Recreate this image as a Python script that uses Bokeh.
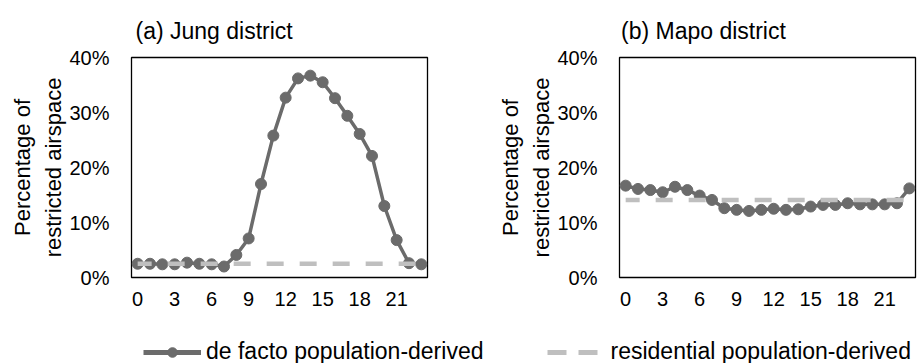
from bokeh.plotting import figure
from bokeh.layouts import column, row
from bokeh.models import Range1d, FixedTicker, Legend, LegendItem
from bokeh.embed import file_html
from bokeh.resources import INLINE

# ---------------- data ----------------
hours = list(range(24))
x_ticks = [0, 3, 6, 9, 12, 15, 18, 21]
y_ticks = [0, 10, 20, 30, 40]
y_tick_labels = ["0%", "10%", "20%", "30%", "40%"]

jung_defacto = [2.5, 2.5, 2.4, 2.4, 2.7, 2.5, 2.4, 2.0, 4.1, 7.1, 17.0, 25.8,
                32.7, 36.2, 36.7, 35.5, 32.6, 29.4, 26.1, 22.1, 13.0, 6.8, 2.6, 2.4]
jung_resid = [2.5, 2.5, 2.5, 2.5, 2.5, 2.5, 2.5, 2.5, 2.5, 2.5, 2.5, 2.5,
              2.5, 2.5, 2.5, 2.5, 2.5, 2.5, 2.5, 2.5, 2.5, 2.5, 2.5, 2.5]
mapo_defacto = [16.7, 16.1, 15.9, 15.5, 16.5, 15.9, 14.9, 14.1, 12.6, 12.3, 12.1, 12.3,
                12.5, 12.3, 12.4, 12.9, 13.2, 13.2, 13.5, 13.3, 13.3, 13.3, 13.5, 16.2]
mapo_resid = [14.1, 14.1, 14.1, 14.1, 14.1, 14.1, 14.1, 14.1, 14.1, 14.1, 14.1, 14.1,
              14.1, 14.1, 14.1, 14.1, 14.1, 14.1, 14.1, 14.1, 14.1, 14.1, 14.1, 14.1]

titles = ["(a) Jung district", "(b) Mapo district"]
y_label = "Percentage of\nrestricted airspace"
series_labels = ["de facto population-derived", "residential population-derived"]

# ---------------- style ----------------
FONT = "Liberation Sans"
DARK = "#6b6b6b"
LIGHT = "#bfbfbf"
TXT = "#000000"


def panel(title, defacto, resid, bl, br, toff):
    p = figure(frame_width=296, frame_height=220, x_range=Range1d(-0.5, 23.5), y_range=Range1d(0, 40),
               output_backend="svg", toolbar_location=None,
               min_border_left=bl, min_border_right=br, min_border_top=57, min_border_bottom=43)
    p.title.text = title
    p.title.text_font = FONT
    p.title.text_font_size = "23px"
    p.title.text_font_style = "normal"
    p.title.text_color = TXT
    p.title.align = "left"
    p.title.offset = toff
    p.title.standoff = 28

    p.outline_line_color = "black"
    p.outline_line_width = 1.3
    p.grid.visible = False
    p.background_fill_color = "white"
    p.border_fill_color = "white"

    for ax in (p.xaxis[0], p.yaxis[0]):
        ax.axis_line_color = None
        ax.major_tick_line_color = None
        ax.minor_tick_line_color = None
        ax.major_tick_out = 0
        ax.major_tick_in = 0
        ax.minor_tick_out = 0
        ax.major_label_text_font = FONT
        ax.major_label_text_font_size = "20px"
        ax.major_label_text_color = TXT

    p.xaxis.ticker = FixedTicker(ticks=x_ticks)
    p.xaxis.major_label_standoff = 14
    p.yaxis.ticker = FixedTicker(ticks=y_ticks)
    p.yaxis.major_label_overrides = {t: l for t, l in zip(y_ticks, y_tick_labels)}
    p.yaxis.major_label_standoff = 22
    p.yaxis.axis_label = y_label
    p.yaxis.axis_label_text_font = FONT
    p.yaxis.axis_label_text_font_size = "22px"
    p.yaxis.axis_label_text_font_style = "normal"
    p.yaxis.axis_label_text_color = TXT
    p.yaxis.axis_label_text_line_height = 1.25
    p.yaxis.axis_label_standoff = 0

    p.line(hours, defacto, line_color=DARK, line_width=3.5)
    p.scatter(hours, defacto, size=11, fill_color=DARK, line_color=DARK)
    p.line(hours, resid, line_color=LIGHT, line_width=4.5, line_dash="17 16", line_dash_offset=3)
    return p


p1 = panel(titles[0], jung_defacto, jung_resid, 131, 21, 4)
p2 = panel(titles[1], mapo_defacto, mapo_resid, 171, 6, 1.5)

lf = figure(width=921, height=43, x_range=Range1d(0, 1), y_range=Range1d(0, 1),
            x_axis_type=None, y_axis_type=None, output_backend="svg", toolbar_location=None,
            min_border=0, outline_line_color=None)
# off-screen dummy renderers, only used for the legend glyphs
r1 = lf.line([-5, -4], [-5, -4], line_color=DARK, line_width=5)
r2 = lf.scatter([-5, -4], [-5, -4], size=8, fill_color=DARK, line_color=DARK)
r3 = lf.line([-5, -4], [-5, -4], line_color=LIGHT, line_width=5, line_dash="19 12")
legend = Legend(items=[LegendItem(label=series_labels[0], renderers=[r1, r2]),
                       LegendItem(label=series_labels[1], renderers=[r3])],
                orientation="horizontal", location=(143, -2),
                glyph_width=58, glyph_height=24, label_height=24, label_standoff=5, spacing=64,
                padding=0, margin=0, border_line_color=None, background_fill_alpha=0,
                label_text_font=FONT, label_text_font_size="23px", label_text_color=TXT)
lf.add_layout(legend)

layout = column(row(p1, p2), lf)
open("out.html", "w").write(file_html(layout, INLINE))
